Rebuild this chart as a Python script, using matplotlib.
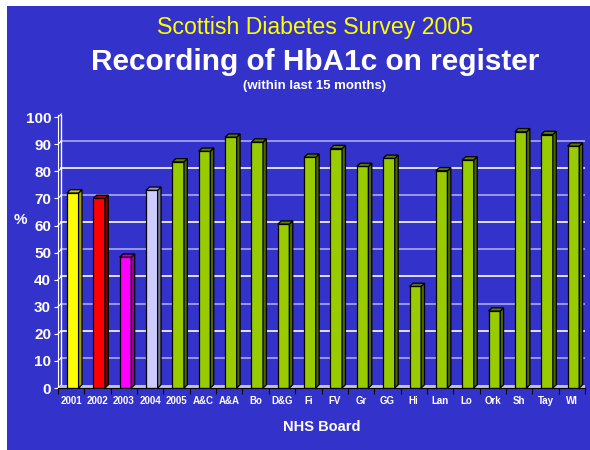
import numpy as np
import matplotlib.pyplot as plt
from matplotlib.patches import Rectangle, Polygon

plt.rcParams['font.family'] = ['Liberation Sans', 'DejaVu Sans']

# recording of HbA1c (%) by year and by NHS board
labels = ['2001', '2002', '2003', '2004', '2005', 'A&C', 'A&A', 'Bo', 'D&G', 'Fi',
          'FV', 'Gr', 'GG', 'Hi', 'Lan', 'Lo', 'Ork', 'Sh', 'Tay', 'WI']
values = [72, 70, 48.3, 73, 83.5, 87.4, 92.6, 90.8, 60.5, 85.2,
          88.4, 81.8, 84.8, 37.5, 80.2, 84.2, 28.4, 94.6, 93.6, 89.3]
front_colors = ['#ffff00', '#ff0000', '#ff00ff', '#ccccff'] + ['#99cc00'] * 16
side_colors = ['#a0a000', '#800000', '#990099', '#7a7a99'] + ['#4d6600'] * 16
top_colors = ['#c8c800', '#b00000', '#bb00bb', '#9999bb'] + ['#5e7d00'] * 16

bg = '#3333cc'
dx, dy = 0.13, 1.2   # 3d depth offset in data units
w = 0.44

fig = plt.figure(figsize=(5.9, 4.5), dpi=100, facecolor='white')
fig.patches.append(Rectangle((7 / 590, 0), 1, 1 - 6 / 450, transform=fig.transFigure,
                             facecolor=bg, edgecolor='none', zorder=-1))

fig.text(0.534, 0.938, 'Scottish Diabetes Survey 2005', color='#ffff00',
         fontsize=16.7, ha='center', va='center')
fig.text(0.534, 0.862, 'Recording of HbA1c on register', color='white',
         fontsize=21.4, fontweight='bold', ha='center', va='center')
fig.text(0.534, 0.808, '(within last 15 months)', color='white',
         fontsize=9.5, fontweight='bold', ha='center', va='center')

ax = fig.add_axes([58 / 590, 62 / 450, 527 / 590, 273 / 450])
ax.set_facecolor('none')
x = np.arange(len(labels))
ax.set_xlim(-0.5, len(labels) - 0.5)
ax.set_ylim(0, 100.8)

yt = np.arange(0, 101, 10)
# gridlines on the back wall, alternating white / lavender
for v in yt[1:]:
    col = 'white' if v % 20 == 0 else '#aaaaee'
    ax.plot([-0.5 + dx, len(labels) - 0.5], [v + dy, v + dy], color=col, lw=1.2, zorder=1)
for v in yt:
    ax.plot([-0.5, -0.5 + dx], [v, v + dy], color='white', lw=0.8, zorder=1, clip_on=False)
ax.plot([-0.5 + dx, -0.5 + dx], [dy, 100 + dy], color='white', lw=1, zorder=1)

# floor
ax.add_patch(Polygon([(-0.5, 0), (len(labels) - 0.5, 0), (len(labels) - 0.5, dy),
                      (-0.5 + dx, dy)], closed=True, facecolor='#c4c4cc', edgecolor='none', zorder=1))

# 3d bars
for i, v in enumerate(values):
    x0 = i + 0.06 - w / 2
    x1 = x0 + w
    ax.add_patch(Rectangle((x0, 0), w, v, facecolor=front_colors[i], edgecolor='black',
                           lw=0.9, zorder=3))
    ax.add_patch(Polygon([(x1, 0), (x1 + dx, dy), (x1 + dx, v + dy), (x1, v)], closed=True,
                         facecolor=side_colors[i], edgecolor='black', lw=0.9, zorder=3))
    ax.add_patch(Polygon([(x0, v), (x0 + dx, v + dy), (x1 + dx, v + dy), (x1, v)], closed=True,
                         facecolor=top_colors[i], edgecolor='black', lw=0.9, zorder=3))

for s in ['top', 'right']:
    ax.spines[s].set_visible(False)
ax.spines['left'].set_color('white')
ax.spines['bottom'].set_color('black')
ax.spines['bottom'].set_zorder(4)

ax.set_yticks(yt)
ax.set_yticklabels([str(v) for v in yt], color='white', fontsize=11, fontweight='bold')
ax.tick_params(axis='y', colors='white', length=3, pad=2)

ax.set_xticks(np.arange(len(labels) + 1) - 0.5)
ax.set_xticklabels([])
ax.set_xticks(x, minor=True)
ax.set_xticklabels(labels, minor=True, color='white', fontsize=7, fontweight='bold')
ax.tick_params(axis='x', which='major', colors='black', length=4, direction='out')
ax.tick_params(axis='x', which='minor', length=0, pad=6)

ax.set_xlabel('NHS Board', color='white', fontsize=10.5, fontweight='bold', labelpad=10)
fig.text(0.035, 0.51, '%', color='white', fontsize=11, fontweight='bold', ha='center', va='center')

plt.savefig('out.png', dpi=100, facecolor='white')
